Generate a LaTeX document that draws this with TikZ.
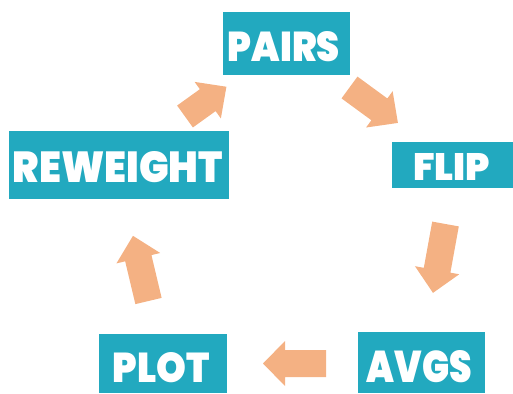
\documentclass[tikz,border=0pt]{standalone}
\usepackage{fontspec}
\newfontfamily\hf{Poppins}[BoldFont={Poppins Black}]
\definecolor{tealbox}{HTML}{22A9BF}
\definecolor{peach}{HTML}{F4B183}
\newcommand\blockarrow[4]{%
  \fill[peach, shift={(#1)}, rotate=#2]
    (0,-13.5) -- (#3,-13.5) -- (#3,-22.5) -- ({#3+#4},0) -- (#3,22.5) -- (#3,13.5) -- (0,13.5) -- cycle;}
\begin{document}
\begin{tikzpicture}[x=1pt,y=-1pt,
  box/.style={fill=tealbox, draw=none, inner sep=0pt, rectangle},
  lbl/.style={inner sep=0pt, text=white}]
\useasboundingbox (0,0) rectangle (513,393);
% boxes
\node[box, minimum width=127pt, minimum height=63pt] (pairs) at (286.5,43.5) {};
\node[box, minimum width=220pt, minimum height=68pt] (reweight) at (119,165) {};
\node[box, minimum width=121pt, minimum height=46pt] (flip) at (452.5,165) {};
\node[box, minimum width=127pt, minimum height=61pt] (avgs) at (421.5,362.5) {};
\node[box, minimum width=128pt, minimum height=59pt] (plot) at (163,363.5) {};
% labels
\node[lbl] (tpairs) at (284,47) {\resizebox{112pt}{30pt}{\hf\bfseries PAIRS}};
\node[lbl] (treweight) at (118,167.5) {\resizebox{210pt}{31pt}{\hf\bfseries REWEIGHT}};
\node[lbl] (tflip) at (451.5,166.5) {\resizebox{77pt}{27pt}{\hf\bfseries FLIP}};
\node[lbl] (tavgs) at (419.5,367) {\resizebox{105pt}{32pt}{\hf\bfseries AVGS}};
\node[lbl] (tplot) at (161.5,368) {\resizebox{97pt}{30pt}{\hf\bfseries PLOT}};
% arrows
\blockarrow{185,116.5}{35.7}{28}{23}
\blockarrow{349.5,87.5}{-36.2}{37}{23}
\blockarrow{445.5,224}{-100.3}{47}{23}
\blockarrow{326,363.5}{180}{41}{22}
\blockarrow{148.5,301}{103.4}{44}{23}
\end{tikzpicture}
\end{document}
